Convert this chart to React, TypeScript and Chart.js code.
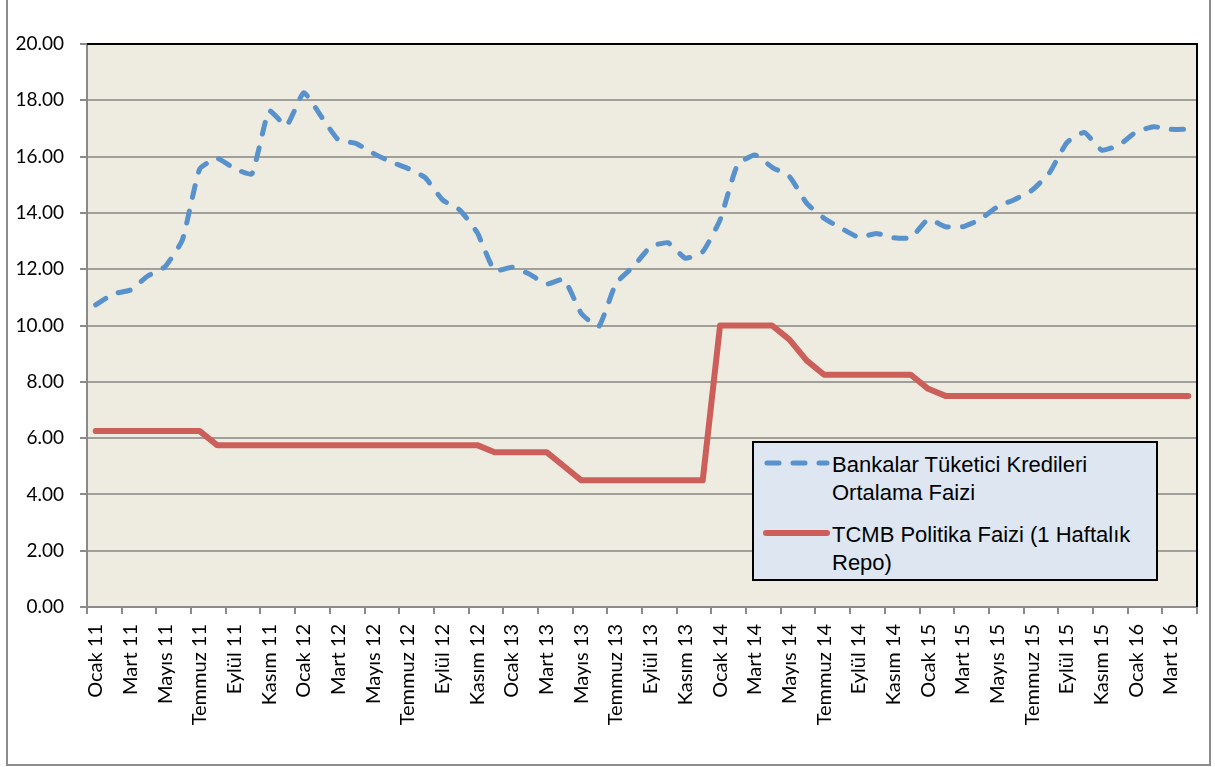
import React, { useEffect, useRef } from 'react';
import { Chart, registerables } from 'chart.js';

Chart.register(...registerables);

const monthNames = ['Ocak', 'Şubat', 'Mart', 'Nisan', 'Mayıs', 'Haziran', 'Temmuz', 'Ağustos', 'Eylül', 'Ekim', 'Kasım', 'Aralık'];
const years = ['11', '12', '13', '14', '15', '16'];
const monthCount = 64;
const categories: string[] = [];
for (let i = 0; i < monthCount; i++) {
  categories.push(monthNames[i % 12] + ' ' + years[Math.floor(i / 12)]);
}

const seriesNames = ['Bankalar Tüketici Kredileri Ortalama Faizi', 'TCMB Politika Faizi (1 Haftalık Repo)'];

const consumerLoanRate = [
  10.73, 11.12, 11.26, 11.76, 12.09, 13.04, 15.56, 15.94, 15.58, 15.38,
  17.63, 17.1, 18.27, 17.43, 16.59, 16.47, 16.12, 15.82, 15.58, 15.25,
  14.46, 14.1, 13.3, 11.95, 12.07, 11.83, 11.47, 11.64, 10.43, 9.96,
  11.5, 12.09, 12.8, 12.94, 12.39, 12.62, 13.75, 15.7, 16.06, 15.62,
  15.29, 14.34, 13.81, 13.45, 13.13, 13.27, 13.12, 13.12, 13.77, 13.51,
  13.51, 13.77, 14.22, 14.48, 14.81, 15.43, 16.5, 16.86, 16.23, 16.41,
  16.88, 17.06, 16.97, 16.97,
];

const policyRate = [
  6.25, 6.25, 6.25, 6.25, 6.25, 6.25, 6.25,
  5.75, 5.75, 5.75, 5.75, 5.75, 5.75, 5.75, 5.75, 5.75, 5.75, 5.75, 5.75, 5.75, 5.75, 5.75, 5.75,
  5.5, 5.5, 5.5, 5.5,
  5.0,
  4.5, 4.5, 4.5, 4.5, 4.5, 4.5, 4.5, 4.5,
  10, 10, 10, 10,
  9.5, 8.75,
  8.25, 8.25, 8.25, 8.25, 8.25, 8.25,
  7.75,
  7.5, 7.5, 7.5, 7.5, 7.5, 7.5, 7.5, 7.5, 7.5, 7.5, 7.5, 7.5, 7.5, 7.5, 7.5,
];

const yMin = 0;
const yMax = 20;
const yStep = 2;

const BLUE = '#5891cc';
const RED = '#cc5f59';
const GRID = '#a09f9a';
const AXIS = '#8a8a8a';

const plotBg = {
  id: 'plotBg',
  beforeDraw(chart: any) {
    const { ctx, chartArea: a } = chart;
    ctx.save();
    ctx.fillStyle = '#eeece1';
    ctx.fillRect(a.left, a.top, a.right - a.left, a.bottom - a.top);
    ctx.restore();
  },
  beforeDatasetsDraw(chart: any) {
    const { ctx, chartArea: a } = chart;
    ctx.save();
    ctx.strokeStyle = '#000';
    ctx.lineWidth = 2;
    ctx.beginPath();
    ctx.moveTo(a.left, a.top);
    ctx.lineTo(a.right, a.top);
    ctx.lineTo(a.right, a.bottom);
    ctx.stroke();
    ctx.restore();
  },
};

export default function App() {
  const ref = useRef<HTMLCanvasElement | null>(null);

  useEffect(() => {
    if (!ref.current) return;
    const chart = new Chart(ref.current, {
      type: 'line',
      data: {
        labels: categories,
        datasets: [
          {
            label: seriesNames[0],
            data: consumerLoanRate,
            borderColor: BLUE,
            borderWidth: 5,
            borderDash: [12, 14],
            borderCapStyle: 'round',
            borderJoinStyle: 'round',
            pointRadius: 0,
            tension: 0.15,
            fill: false,
          },
          {
            label: seriesNames[1],
            data: policyRate,
            borderColor: RED,
            borderWidth: 6,
            borderCapStyle: 'round',
            borderJoinStyle: 'round',
            pointRadius: 0,
            tension: 0,
            fill: false,
          },
        ],
      },
      options: {
        responsive: false,
        animation: false,
        devicePixelRatio: 1,
        layout: { padding: { left: 0, top: 44, right: 18, bottom: 0 } },
        plugins: {
          legend: { display: false },
          tooltip: { enabled: false },
          title: { display: false },
        },
        scales: {
          x: {
            type: 'category',
            offset: true,
            afterFit: (s: any) => {
              s.height = 160;
              s.paddingLeft = 0;
              s.paddingRight = 0;
            },
            grid: {
              offset: true,
              drawOnChartArea: false,
              drawTicks: true,
              tickLength: 7,
              lineWidth: 2,
              color: (ctx: any) => (ctx.index === undefined || ctx.index % 2 === 0 ? AXIS : 'rgba(0,0,0,0)'),
            },
            border: { display: true, color: AXIS, width: 2 },
            ticks: {
              autoSkip: false,
              maxRotation: 90,
              minRotation: 90,
              padding: 10,
              color: '#000',
              font: { family: 'Lato, "Open Sans", sans-serif', size: 20 },
              callback: (_v: any, i: number) => (i % 2 === 0 ? categories[i] : ''),
            },
          },
          y: {
            min: yMin,
            max: yMax,
            afterFit: (s: any) => {
              s.width = 87;
              s.paddingTop = 0;
              s.paddingBottom = 0;
            },
            grid: {
              color: GRID,
              lineWidth: 2,
              tickLength: 7,
              tickColor: AXIS,
            },
            border: { display: true, color: AXIS, width: 2 },
            ticks: {
              stepSize: yStep,
              padding: 16,
              color: '#000',
              font: { family: 'Lato, "Open Sans", sans-serif', size: 19 },
              callback: (v: any) => Number(v).toFixed(2),
            },
          },
        },
      },
      plugins: [plotBg],
    });
    return () => chart.destroy();
  }, []);

  const legendText: React.CSSProperties = {
    position: 'absolute',
    left: 78,
    fontFamily: '"Liberation Sans", Arial, sans-serif',
    fontSize: 22,
    lineHeight: '28px',
    color: '#000',
    whiteSpace: 'nowrap',
  };

  return (
    <div style={{ position: 'fixed', left: 0, top: 0, width: 1215, height: 767, background: '#fff' }}>
      <div
        style={{
          position: 'absolute',
          left: 6,
          top: -2,
          width: 1205,
          height: 768,
          border: '2px solid #8c8c8c',
          boxSizing: 'border-box',
        }}
      />
      <canvas ref={ref} width={1215} height={767} style={{ position: 'absolute', left: 0, top: 0, width: 1215, height: 767 }} />
      <div
        style={{
          position: 'absolute',
          left: 752,
          top: 441,
          width: 406,
          height: 140,
          background: '#dde6f1',
          border: '2px solid #000',
          boxSizing: 'border-box',
        }}
      >
        <svg width={80} height={140} style={{ position: 'absolute', left: 0, top: 0 }}>
          <line x1={13} y1={20} x2={73} y2={20} stroke={BLUE} strokeWidth={5} strokeLinecap="round" strokeDasharray="12 14" />
          <line x1={12} y1={90} x2={73} y2={90} stroke={RED} strokeWidth={6} strokeLinecap="round" />
        </svg>
        <div style={{ ...legendText, top: 8 }}>
          Bankalar Tüketici Kredileri
          <br />
          Ortalama Faizi
        </div>
        <div style={{ ...legendText, top: 78 }}>
          TCMB Politika Faizi (1 Haftalık
          <br />
          Repo)
        </div>
      </div>
    </div>
  );
}
